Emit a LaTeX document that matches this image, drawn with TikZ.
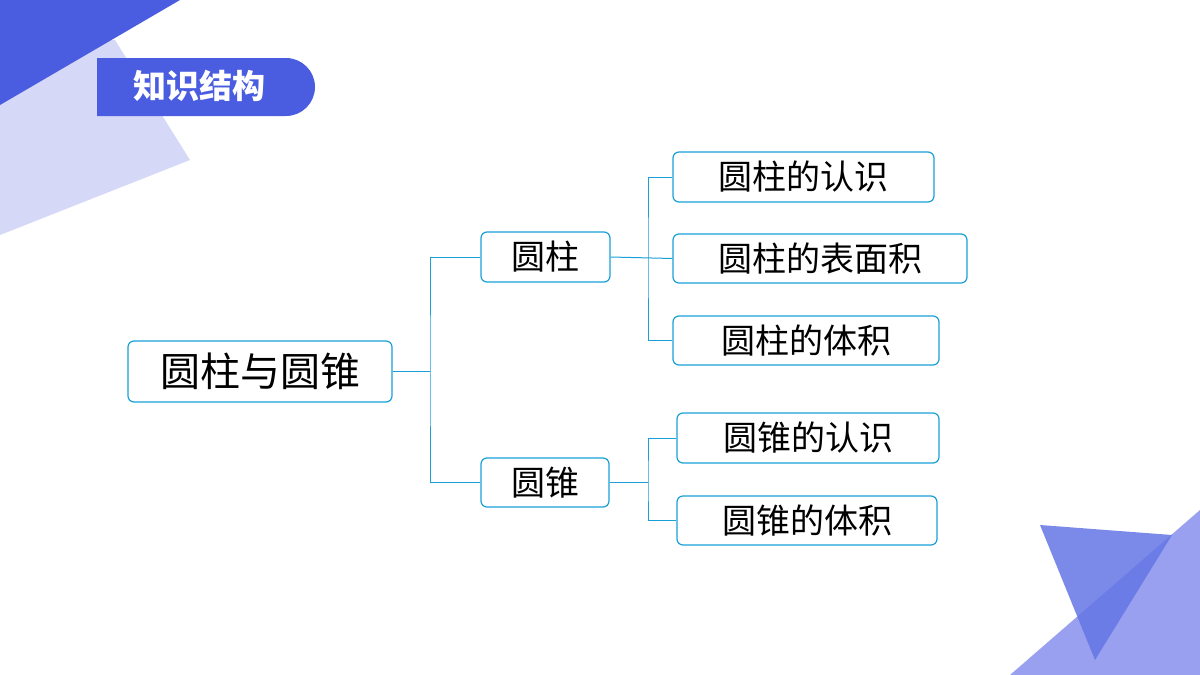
\documentclass[tikz,border=0pt]{standalone}
\usepackage{fontspec}
\setmainfont{Noto Sans CJK SC}
\begin{document}
\begin{tikzpicture}[x=1pt,y=-1pt,
  box/.style={draw=boxc,line width=1.2pt,rounded corners=6pt,inner sep=0pt,font=\fontsize{34}{38}\selectfont},
  ln/.style={draw=boxc,line width=1pt}]
\definecolor{boxc}{HTML}{1AA0D8}
\definecolor{dblue}{HTML}{4A5DE0}
\definecolor{lblue}{HTML}{D5D9F7}
\definecolor{tri1}{HTML}{9AA0F0}
\definecolor{tri2}{HTML}{6476E6}
\useasboundingbox (0,0) rectangle (1200,675);
\fill[white] (0,0) rectangle (1200,675);
\fill[lblue] (0,40) -- (115,40) -- (190,160) -- (0,235) -- cycle;
\fill[dblue] (0,0) -- (180,0) -- (0,105) -- cycle;
\fill[dblue] (97,58) -- (286,58) arc[start angle=-90,end angle=90,radius=29] -- (97,116) -- cycle;
\node[text=white,font=\bfseries\fontsize{33}{36}\selectfont] (title) at (199,86) {知识结构};
\fill[tri1] (1010,675) -- (1200,510) -- (1200,675) -- cycle;
\fill[tri2,opacity=0.85] (1040,525) -- (1172,535) -- (1095,660) -- cycle;

\node[box,minimum width=264pt,minimum height=61pt,font=\fontsize{40}{44}\selectfont] (root) at (260,371.5) {圆柱与圆锥};
\node[box,minimum width=129pt,minimum height=50pt] (yz) at (545.5,257) {圆柱};
\node[box,minimum width=128pt,minimum height=49pt] (yzh) at (545,482.5) {圆锥};
\node[box,minimum width=261pt,minimum height=50pt] (a1) at (803.5,177) {圆柱的认识};
\node[box,minimum width=294pt,minimum height=49pt] (a2) at (820,258.5) {圆柱的表面积};
\node[box,minimum width=266pt,minimum height=49pt] (a3) at (806,340.5) {圆柱的体积};
\node[box,minimum width=262pt,minimum height=50pt] (b1) at (808,438) {圆锥的认识};
\node[box,minimum width=260pt,minimum height=49pt] (b2) at (807,520.5) {圆锥的体积};

\coordinate (j0) at (430,371.5);
\draw[ln] (root.east) -- (j0);
\draw[ln] (yz.west) -| (j0) |- (yzh.west);
\coordinate (j1) at (648,257);
\draw[ln] (yz.east) -- (a2.west);
\draw[ln] (a1.west) -| (j1) |- (a3.west);
\coordinate (j2) at (648,482.5);
\draw[ln] (yzh.east) -- (j2);
\draw[ln] (b1.west) -| (j2) |- (b2.west);
\end{tikzpicture}
\end{document}
